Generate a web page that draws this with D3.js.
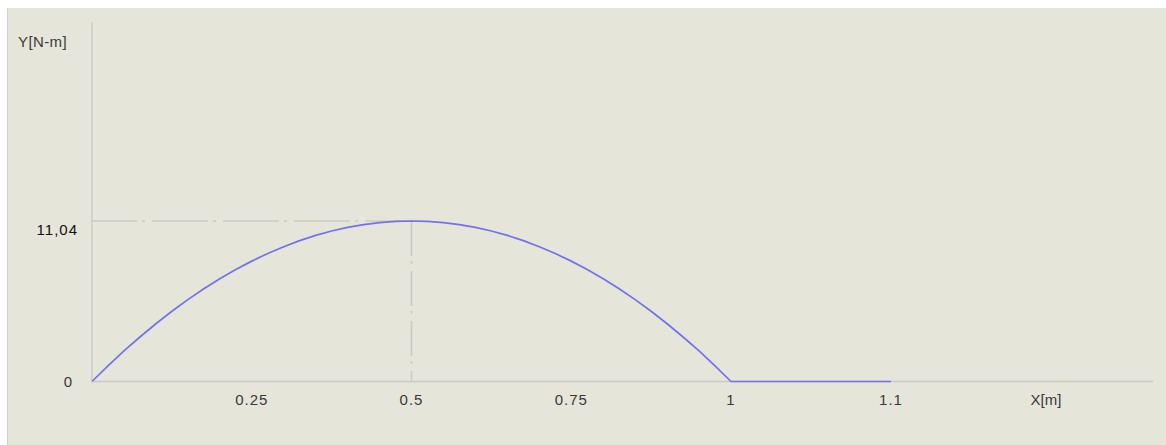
<!DOCTYPE html>
<html>
<head>
<meta charset="utf-8">
<script src="https://cdn.jsdelivr.net/npm/d3@7"></script>
<style>
  body { margin: 0; background: #fff; }
  svg { display: block; font-family: "Liberation Sans", Arial, sans-serif; }
</style>
</head>
<body>
<div id="chart"></div>
<script>
// x positions [m] and bending moment values [N-m]
const xs = [0, 0.025, 0.05, 0.075, 0.1, 0.125, 0.15, 0.175, 0.2, 0.225, 0.25,
            0.275, 0.3, 0.325, 0.35, 0.375, 0.4, 0.425, 0.45, 0.475, 0.5,
            0.525, 0.55, 0.575, 0.6, 0.625, 0.65, 0.675, 0.7, 0.725, 0.75,
            0.775, 0.8, 0.825, 0.85, 0.875, 0.9, 0.925, 0.95, 0.975, 1, 1.1]
const ys = [0, 1.08, 2.1, 3.06, 3.97, 4.83, 5.63, 6.38, 7.07, 7.7, 8.28,
            8.8, 9.27, 9.69, 10.05, 10.35, 10.6, 10.79, 10.93, 11.01, 11.04,
            11.01, 10.93, 10.79, 10.6, 10.35, 10.05, 9.69, 9.27, 8.8, 8.28,
            7.7, 7.07, 6.38, 5.63, 4.83, 3.97, 3.06, 2.1, 1.08, 0, 0]

const xTicks = [0.25, 0.5, 0.75, 1, 1.1]
const xTickLabels = ['0.25', '0.5', '0.75', '1', '1.1']
const yTicks = [0, 11.04]
const yTickLabels = ['0', '11,04']
const peak = {x: 0.5, y: 11.04}

const W = 1166, H = 445
const bg = '#e6e5da'
const axisColor = '#cbcbc6'
const curveColor = '#7272ee'
const labelColor = '#3a3a3a'

const svg = d3.select('#chart').append('svg')
  .attr('width', W).attr('height', H)

svg.append('rect')
  .attr('x', 8).attr('y', 8).attr('width', W - 8).attr('height', H - 8)
  .attr('fill', bg)
svg.append('line')
  .attr('x1', 7.5).attr('x2', 7.5).attr('y1', 8).attr('y2', H)
  .attr('stroke', '#c9d0e6')

// the last span (1 .. 1.1) is drawn wider than the rest in the original
const x = d3.scaleLinear().domain([0, 1, 1.1]).range([92, 731, 891])
const y = d3.scaleLinear().domain([0, 11.04]).range([381.5, 221])

// axes
svg.append('line')
  .attr('x1', x(0)).attr('x2', 1153).attr('y1', y(0)).attr('y2', y(0))
  .attr('stroke', axisColor).attr('stroke-width', 1.5)
svg.append('line')
  .attr('x1', x(0)).attr('x2', x(0)).attr('y1', 22).attr('y2', y(0))
  .attr('stroke', axisColor).attr('stroke-width', 1.5)

// dash-dot guides to the peak
svg.append('line')
  .attr('x1', x(0)).attr('x2', x(peak.x)).attr('y1', y(peak.y)).attr('y2', y(peak.y))
  .attr('stroke', axisColor).attr('stroke-width', 1.5)
  .attr('stroke-dasharray', '56,5,3,7').attr('stroke-dashoffset', 11)
svg.append('line')
  .attr('x1', x(peak.x)).attr('x2', x(peak.x)).attr('y1', y(peak.y)).attr('y2', y(0))
  .attr('stroke', axisColor).attr('stroke-width', 1.5)
  .attr('stroke-dasharray', '35,5,3,7').attr('stroke-dashoffset', 0)

// curve
const data = xs.map((v, i) => ({x: v, y: ys[i]}))
svg.append('path')
  .datum(data)
  .attr('fill', 'none')
  .attr('stroke', curveColor)
  .attr('stroke-width', 1.7)
  .attr('d', d3.line().x(d => x(d.x)).y(d => y(d.y)))

// x tick labels
svg.selectAll('text.xt')
  .data(xTicks).enter().append('text')
  .attr('class', 'xt')
  .attr('x', d => x(d))
  .attr('y', 405)
  .attr('text-anchor', 'middle')
  .attr('font-size', 15)
  .attr('letter-spacing', 1)
  .attr('fill', labelColor)
  .text((d, i) => xTickLabels[i])

// y tick labels
svg.selectAll('text.yt')
  .data(yTicks).enter().append('text')
  .attr('class', 'yt')
  .attr('x', d => d === 0 ? 73 : 78)
  .attr('y', d => d === 0 ? y(d) + 5 : y(d) + 14)
  .attr('text-anchor', 'end')
  .attr('font-size', 15)
  .attr('letter-spacing', 1)
  .attr('fill', (d, i) => i === 0 ? labelColor : '#111')
  .text((d, i) => yTickLabels[i])

// axis titles
svg.append('text')
  .attr('x', 18).attr('y', 47)
  .attr('font-size', 15).attr('letter-spacing', 0.4).attr('fill', labelColor)
  .text('Y[N-m]')
svg.append('text')
  .attr('x', 1046).attr('y', 405)
  .attr('text-anchor', 'middle')
  .attr('font-size', 15).attr('fill', labelColor)
  .text('X[m]')
</script>
</body>
</html>
